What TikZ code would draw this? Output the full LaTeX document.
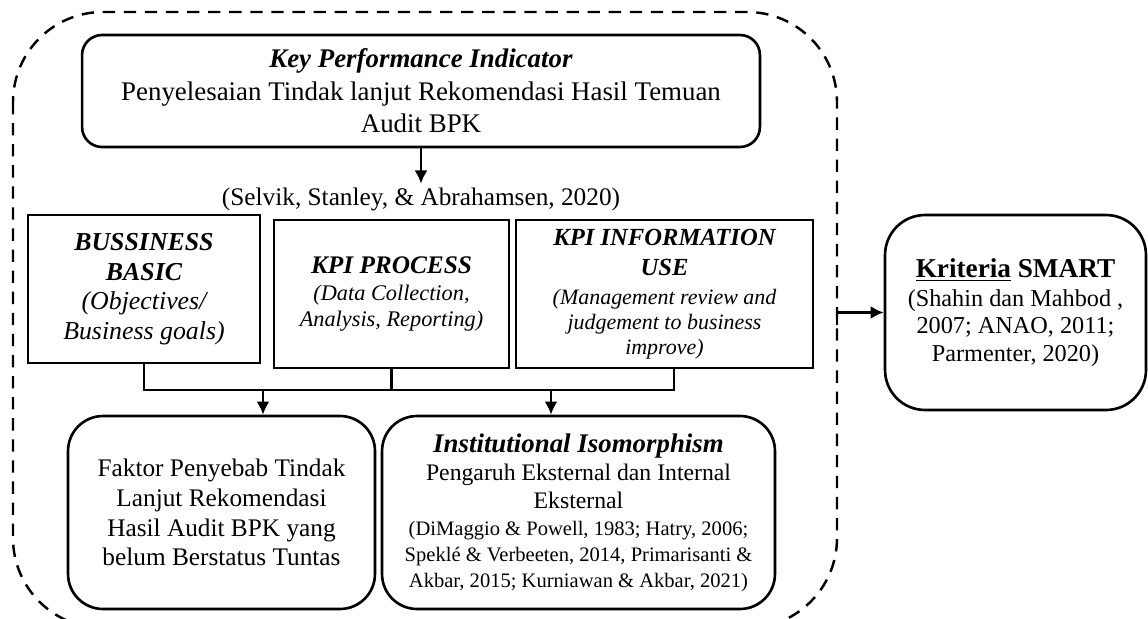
\documentclass[tikz,border=0pt]{standalone}
\usepackage{fontspec}
\setmainfont{Liberation Serif}
\usetikzlibrary{positioning, arrows.meta}

\tikzset{
  rbox/.style={draw, line width=1.5pt, rounded corners=0.7cm, align=center, inner sep=0pt},
  sbox/.style={draw, line width=1.5pt, align=center, inner sep=0pt},
  conn/.style={line width=1.6pt},
  arr/.style={conn, -{Latex[length=7.5pt, width=7.5pt]}},
  frame/.style={line width=1.4pt, dash pattern=on 7pt off 5pt, rounded corners=1.8cm}
}

\begin{document}
\begin{tikzpicture}[x=0.02cm, y=-0.02cm]
  \useasboundingbox (0,0) rectangle (1148,618);

  %% Bingkai putus-putus
  \draw [frame] (13,12) rectangle (837,628);

  %% KPI
  \node [rbox, rounded corners=0.4cm, minimum width=13.56cm, minimum height=2.24cm,
         font=\fontsize{15.3}{18.5}\selectfont] (kpi) at (421,91)
    {\textbf{\textit{Key Performance Indicator}}\\
     Penyelesaian Tindak lanjut Rekomendasi Hasil Temuan\\
     Audit BPK};

  %% Sumber
  \node [inner sep=2pt, font=\fontsize{14.4}{17}\selectfont] (cite) at (421,199)
    {(Selvik, Stanley, \& Abrahamsen, 2020)};
  \draw [arr] (kpi.south) -- (cite.north);

  %% Tiga kotak
  \node [sbox, minimum width=4.64cm, minimum height=2.96cm,
         font=\fontsize{14.7}{16.8}\selectfont\itshape] (basic) at (144,289)
    {\textbf{BUSSINESS}\\ \textbf{BASIC}\\ (Objectives/\\ Business goals)};
  \node [sbox, minimum width=4.7cm, minimum height=2.96cm,
         font=\fontsize{12.7}{14.8}\selectfont\itshape] (proc) at (391.5,294)
    {{\fontsize{14.4}{16}\selectfont\textbf{KPI PROCESS}}\\[1pt]
     (Data Collection,\\ Analysis, Reporting)};
  \node [sbox, minimum width=5.94cm, minimum height=2.96cm,
         font=\fontsize{12.5}{14.2}\selectfont\itshape] (info) at (664.5,294)
    {{\fontsize{14}{16}\selectfont\textbf{KPI INFORMATION}}\\[3pt]
     {\fontsize{14}{16}\selectfont\textbf{USE}}\\[2pt]
     (Management review and\\ judgement to business\\ improve)};

  %% Garis gabungan
  \coordinate (bar) at (0,390);
  \draw [conn] (basic.south) |- ([xshift=0.19cm]info.south |- bar)
    -- ([xshift=0.19cm]info.south);
  \draw [conn] (proc.south) -- (proc.south |- bar);

  %% Kotak bawah
  \node [rbox, minimum width=6.14cm, minimum height=3.86cm,
         font=\fontsize{14.4}{17}\selectfont] (faktor) at (221.5,512.5)
    {Faktor Penyebab Tindak\\ Lanjut Rekomendasi\\
     Hasil Audit BPK yang\\ belum Berstatus Tuntas};
  \node [rbox, minimum width=7.86cm, minimum height=3.86cm,
         font=\fontsize{13.5}{16.2}\selectfont] (inst) at (578.5,512.5)
    {{\fontsize{15.3}{17}\selectfont\textbf{\textit{Institutional Isomorphism}}}\\
     Pengaruh Eksternal dan Internal\\
     Eksternal\\[-1pt]
     {\fontsize{11.7}{14}\selectfont (DiMaggio \& Powell, 1983; Hatry, 2006;}\\[-1.5pt]
     {\fontsize{11.7}{14}\selectfont Speklé \& Verbeeten, 2014, Primarisanti \&}\\[-1.5pt]
     {\fontsize{11.7}{14}\selectfont Akbar, 2015; Kurniawan \& Akbar, 2021)}};
  \draw [arr] ([xshift=0.83cm]faktor.north |- bar) -- ([xshift=0.83cm]faktor.north);
  \draw [arr] ([xshift=-0.55cm]inst.north |- bar) -- ([xshift=-0.55cm]inst.north);

  %% SMART
  \node [rbox, rounded corners=0.8cm, minimum width=5.22cm, minimum height=3.9cm,
         font=\fontsize{13.8}{15.5}\selectfont] (smart) at (1015.5,312.5)
    {{\fontsize{15.5}{17}\selectfont\textbf{\underline{Kriteria} SMART}}\\[1pt]
     (Shahin dan Mahbod ,\\ 2007; ANAO, 2011;\\ Parmenter, 2020)};
  \coordinate (fr) at (837,325);
  \draw [arr] (fr) |- (smart.west);
\end{tikzpicture}
\end{document}
